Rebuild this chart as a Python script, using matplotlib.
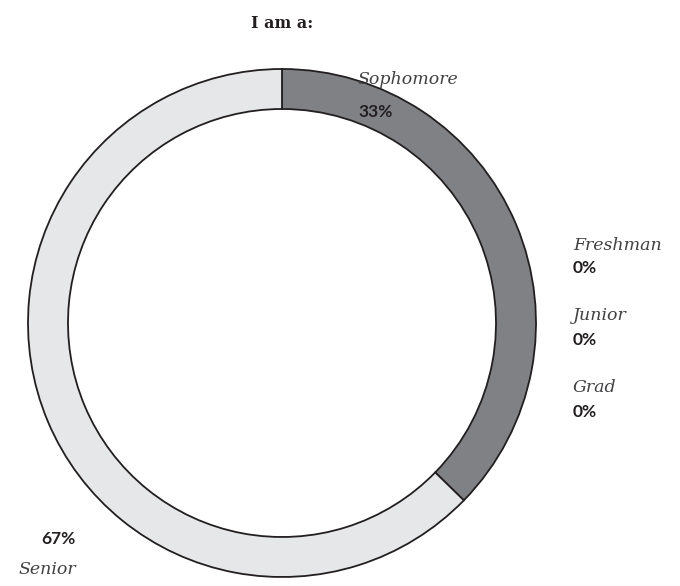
import matplotlib
matplotlib.use("Agg")
import matplotlib.pyplot as plt

# Data
categories = ["Sophomore", "Freshman", "Junior", "Grad", "Senior"]
pct_labels = ["33%", "0%", "0%", "0%", "67%"]
arc_share = [37.3, 0, 0, 0, 62.7]   # arc sizes as drawn in the picture
colors = ["#808184", "#808184", "#808184", "#808184", "#e6e7e8"]

W, H = 680, 586


def py(y):
    # pixel row (from top) -> data y
    return H - y


fig = plt.figure(figsize=(W / 100, H / 100), dpi=100)
ax = fig.add_axes([0, 0, 1, 1])

# only non-empty slices get a wedge
vals = [v for v in arc_share if v > 0]
cols = [c for v, c in zip(arc_share, colors) if v > 0]
ax.pie(vals, colors=cols, startangle=90, counterclock=False,
       center=(282, py(323)), radius=254, frame=True,
       wedgeprops=dict(width=40, edgecolor="#231f20", linewidth=1.3))
ax.set_xlim(0, W)
ax.set_ylim(0, H)
ax.set_aspect("equal")
ax.axis("off")

fig.text(282 / W, 1 - 23 / H, "I am a:", ha="center", va="center",
         fontsize=11.5, family="DejaVu Serif", weight="semibold", color="#231f20")

label_kw = dict(fontsize=12.5, family="DejaVu Serif", style="italic", color="#414042")
pct_kw = dict(fontsize=12.5, family="Lato", weight="bold", color="#231f20")

# (name x, name y, pct y, align)
spots = {
    "Sophomore": (358, 80, 112, "left"),
    "Freshman": (573, 245, 268, "left"),
    "Junior": (573, 316, 340, "left"),
    "Grad": (573, 388, 412, "left"),
    "Senior": (76, 569, 539, "right"),
}
for name, pct in zip(categories, pct_labels):
    x, yn, yp, ha = spots[name]
    ax.text(x, py(yn), name, ha=ha, va="center", **label_kw)
    ax.text(x, py(yp), pct, ha=ha, va="center", **pct_kw)

fig.savefig("out.png", dpi=100)
